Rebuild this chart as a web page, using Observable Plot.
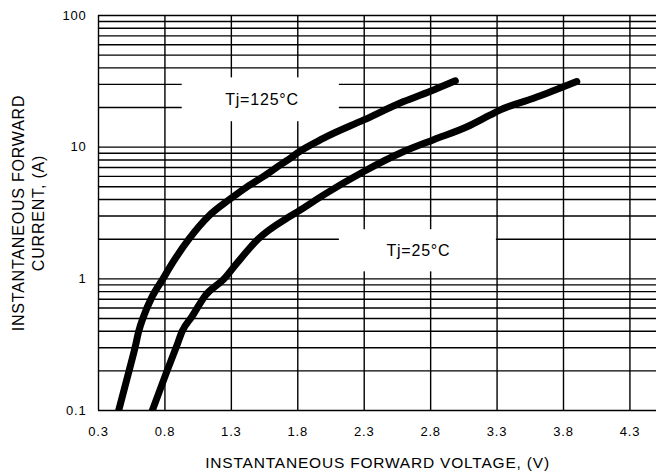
<!DOCTYPE html>
<html><head><meta charset="utf-8">
<script src="https://cdn.jsdelivr.net/npm/d3@7"></script>
<script src="https://cdn.jsdelivr.net/npm/@observablehq/plot@0.6"></script>
<style>
body{margin:0;background:#fff}
#chart svg{font-family:"Liberation Sans",Arial,sans-serif;background:#fff}
#chart svg text{letter-spacing:0.8px}
</style></head><body><div id="chart"></div>
<script>
// Tj = 125°C curve
const v125 = [0.452, 0.53, 0.575, 0.603, 0.64, 0.70, 0.785, 0.857, 0.98, 1.13, 1.285, 1.418, 1.543, 1.682, 1.745, 1.795, 1.995, 2.297, 2.597, 2.822, 2.986];
const i125 = [0.1, 0.2, 0.3, 0.4, 0.52, 0.72, 1.0, 1.32, 2.0, 3.0, 4.0, 5.0, 6.0, 7.5, 8.25, 9.0, 11.7, 16.1, 22.2, 27.2, 31.9];
// Tj = 25°C curve
const v25 = [0.705, 0.816, 0.887, 0.93, 1.005, 1.105, 1.245, 1.343, 1.5, 1.745, 1.8, 1.995, 2.297, 2.597, 2.822, 3.074, 3.25, 3.325, 3.575, 3.9];
const i25 = [0.1, 0.2, 0.306, 0.4, 0.52, 0.75, 1.0, 1.32, 2.0, 3.0, 3.24, 4.34, 6.53, 9.26, 11.4, 14.3, 17.6, 19.2, 23.5, 31.5];

const xTicks = [0.3, 0.8, 1.3, 1.8, 2.3, 2.8, 3.3, 3.8, 4.3];
const xTickLabels = ["0.3", "0.8", "1.3", "1.8", "2.3", "2.8", "3.3", "3.8", "4.3"];
const yTicks = [0.1, 1, 10, 100];
const yTickLabels = ["0.1", "1", "10", "100"];
const yGrid = [0.1,0.2,0.3,0.4,0.5,0.6,0.7,0.8,0.9,1,2,3,4,5,6,7,8,9,10,20,30,40,50,60,70,80,90,100];

// temperature labels (centre in V / A) and their white boxes
const labelText = ["Tj=125°C", "Tj=25°C"];
const labelV = [1.531, 2.708];
const labelI = [22.9, 1.63];
const boxV1 = [0.93, 2.113];
const boxV2 = [2.113, 3.295];
const boxI1 = [15.6, 1.13];
const boxI2 = [33.6, 2.36];

const xTitle = "INSTANTANEOUS FORWARD VOLTAGE, (V)";
const yTitle1 = "INSTANTANEOUS FORWARD";
const yTitle2 = "CURRENT, (A)";

const d125 = v125.map((v, k) => ({v, i: i125[k]}));
const d25 = v25.map((v, k) => ({v, i: i25[k]}));
const labels = labelText.map((t, k) => ({t, v: labelV[k], i: labelI[k], x1: boxV1[k], x2: boxV2[k], y1: boxI1[k], y2: boxI2[k]}));

const chart = Plot.plot({
  width: 656,
  height: 475,
  marginLeft: 98,
  marginRight: 0,
  marginTop: 15,
  marginBottom: 65,
  style: {fontSize: "13px", color: "#000", background: "#fff"},
  x: {type: "linear", domain: [0.3, 4.5], ticks: xTicks, tickFormat: d => xTickLabels[xTicks.indexOf(d)], tickSize: 0, tickPadding: 16, label: null},
  y: {type: "log", domain: [0.1, 100], ticks: yTicks, tickFormat: d => yTickLabels[yTicks.indexOf(d)], tickSize: 0, tickPadding: 12, label: null},
  marks: [
    Plot.ruleY(yGrid, {stroke: "#000", strokeWidth: 1.4}),
    Plot.ruleX(xTicks, {y1: 0.1, y2: 100, stroke: "#000", strokeWidth: 1.4}),
    Plot.rect(labels, {x1: "x1", x2: "x2", y1: "y1", y2: "y2", fill: "#fff"}),
    Plot.line(d125, {x: "v", y: "i", stroke: "#000", strokeWidth: 7, strokeLinecap: "round", strokeLinejoin: "round", curve: "monotone-x", clip: true}),
    Plot.line(d25, {x: "v", y: "i", stroke: "#000", strokeWidth: 7, strokeLinecap: "round", strokeLinejoin: "round", curve: "monotone-x", clip: true}),
    Plot.text(labels, {x: "v", y: "i", text: "t", fontSize: 16, fill: "#000"}),
    Plot.text([xTitle], {text: d => d, frameAnchor: "bottom", textAnchor: "middle", dy: 57, fontSize: 15.5, fill: "#000"}),
    Plot.text([yTitle1], {text: d => d, frameAnchor: "left", textAnchor: "middle", lineAnchor: "middle", dx: -80, rotate: -90, fontSize: 16, fill: "#000"}),
    Plot.text([yTitle2], {text: d => d, frameAnchor: "left", textAnchor: "middle", lineAnchor: "middle", dx: -60, rotate: -90, fontSize: 16, fill: "#000"})
  ]
});
document.getElementById("chart").appendChild(chart);
</script></body></html>
